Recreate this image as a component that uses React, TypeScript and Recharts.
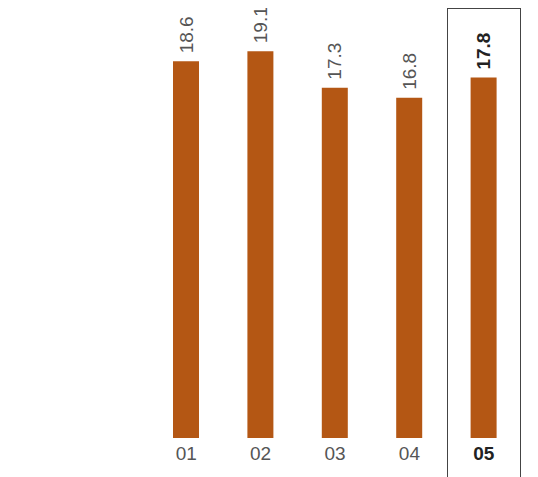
import React from 'react';
import { BarChart, Bar, XAxis, YAxis, LabelList, ReferenceArea } from 'recharts';

const categories = ['01', '02', '03', '04', '05'];
const values = [18.6, 19.1, 17.3, 16.8, 17.8];
const highlighted = '05';

const data = categories.map((c, i) => ({ name: c, value: values[i] }));

const FONT = '"Liberation Sans", Arial, Helvetica, sans-serif';
const BAR_COLOR = '#B45714';
const CHART_W = 530;
const CHART_H = 477;
const BOX_TOP = 8;

const Tick = (props: any) => {
  const { x, y, payload } = props;
  const hl = payload.value === highlighted;
  return (
    <text
      x={x}
      y={y}
      dy="0.71em"
      textAnchor="middle"
      fontFamily={FONT}
      fontSize={19}
      fontWeight={hl ? 700 : 400}
      fill={hl ? '#222' : '#555'}
    >
      {payload.value}
    </text>
  );
};

const ValueLabel = (props: any) => {
  const { x, y, width, value, index } = props;
  const hl = categories[index] === highlighted;
  const cx = x + width / 2;
  const ty = y - 8;
  return (
    <text
      x={cx}
      y={ty}
      dy="0.35em"
      transform={`rotate(-90 ${cx} ${ty})`}
      textAnchor="start"
      fontFamily={FONT}
      fontSize={19}
      fontWeight={hl ? 700 : 400}
      fill={hl ? '#222' : '#555'}
    >
      {value}
    </text>
  );
};

const BoxShape = (props: any) => {
  const { x, width } = props;
  return (
    <rect
      x={Math.round(x) + 0.5}
      y={BOX_TOP + 0.5}
      width={Math.round(width) - 1}
      height={CHART_H}
      fill="none"
      stroke="#444"
      strokeWidth={1}
    />
  );
};

export default function App() {
  return (
    <div style={{ marginTop: -8 }}>
      <BarChart
        width={CHART_W}
        height={CHART_H}
        data={data}
        margin={{ top: 33, right: 17, bottom: 0, left: 141 }}
      >
        <XAxis
          dataKey="name"
          axisLine={false}
          tickLine={false}
          tickSize={9}
          tickMargin={0}
          height={39}
          tick={<Tick />}
          interval={0}
        />
        <YAxis hide domain={[0, 20]} />
        <ReferenceArea x1={highlighted} x2={highlighted} ifOverflow="visible" shape={<BoxShape />} />
        <Bar dataKey="value" fill={BAR_COLOR} barSize={26} isAnimationActive={false}>
          <LabelList dataKey="value" content={<ValueLabel />} />
        </Bar>
      </BarChart>
    </div>
  );
}
